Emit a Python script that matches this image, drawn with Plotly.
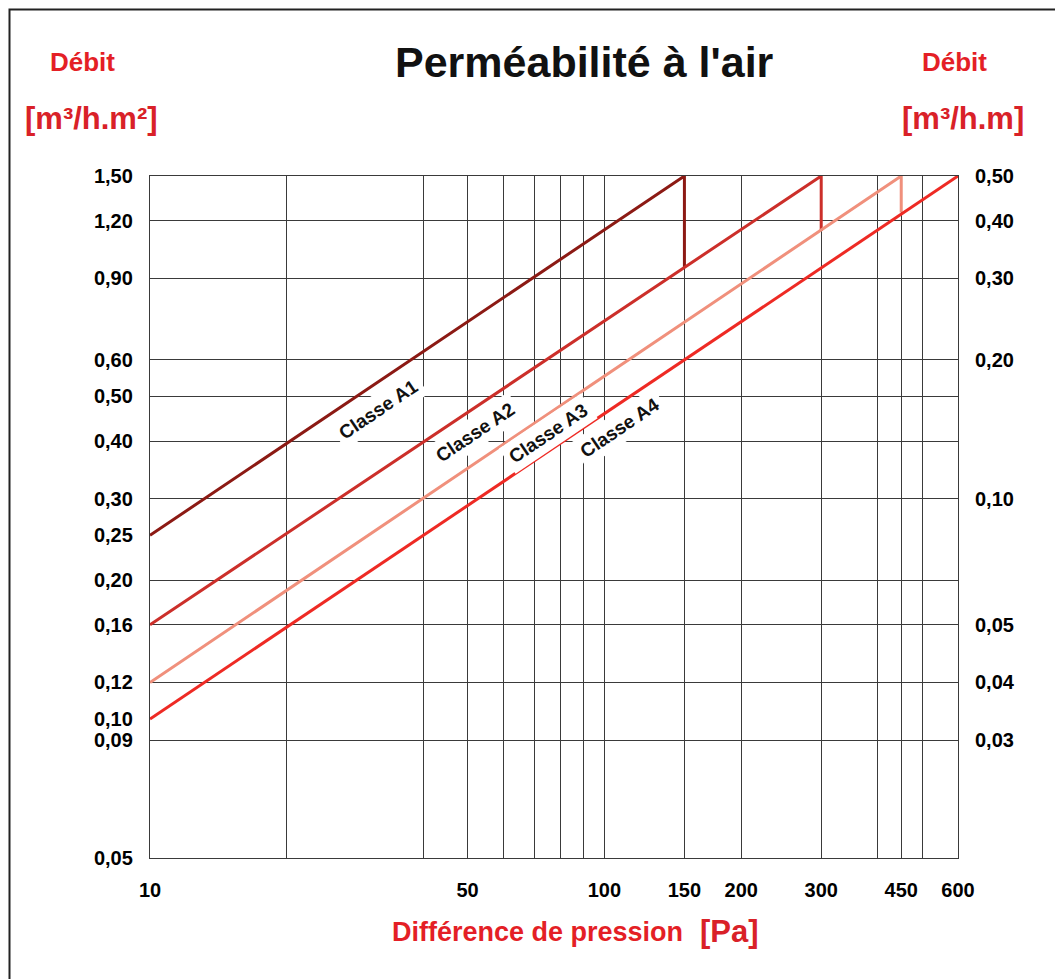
import math
import plotly.graph_objects as go

# données
pression_grille = [10, 20, 40, 50, 60, 70, 80, 90, 100, 150, 200, 300, 400, 450, 500, 600]
pression_labels = [10, 50, 100, 150, 200, 300, 450, 600]

debit_surf_ticks = [1.50, 1.20, 0.90, 0.60, 0.50, 0.40, 0.30, 0.25, 0.20, 0.16, 0.12, 0.10, 0.09, 0.05]
debit_grille = [1.50, 1.20, 0.90, 0.60, 0.50, 0.40, 0.30, 0.20, 0.16, 0.12, 0.09, 0.05]

# axe droit [m3/h.m] : valeurs et position correspondante sur l'axe gauche
debit_lin_vals = [0.50, 0.40, 0.30, 0.20, 0.10, 0.05, 0.04, 0.03]
debit_lin_pos = [1.50, 1.20, 0.90, 0.60, 0.30, 0.16, 0.12, 0.09]

classes = ["Classe A1", "Classe A2", "Classe A3", "Classe A4"]
classes_x = [[10, 150, 150], [10, 300, 300], [10, 450, 450], [10, 600]]
classes_y = [[0.25, 1.50, 0.95], [0.16, 1.50, 1.14], [0.12, 1.50, 1.25], [0.10, 1.50]]
couleurs = ["#8c1a14", "#cc2f2a", "#f0907c", "#ee2a24"]

# position des étiquettes (pression, débit)
etiq_x = [31.8, 51.9, 75.2, 108.2]
etiq_y = [0.469, 0.418, 0.416, 0.429]


def fmt(v):
    return f"{v:.2f}".replace(".", ",")


fig = go.Figure()

for nom, xs, ys, c in zip(classes, classes_x, classes_y, couleurs):
    fig.add_trace(go.Scatter(x=xs, y=ys, mode="lines", name=nom,
                             line=dict(color=c, width=3), hoverinfo="skip"))

# trace invisible pour afficher l'axe de droite
fig.add_trace(go.Scatter(x=[10, 600], y=[0.05, 1.5], yaxis="y2", mode="lines",
                         line=dict(width=0, color="rgba(0,0,0,0)"), hoverinfo="skip"))

grid = "#3a3a3a"
tick_font = dict(family="Liberation Sans, Arial", size=20, color="black", weight="bold")
x_range = [math.log10(min(pression_grille)), math.log10(max(pression_grille))]
y_range = [math.log10(min(debit_grille)), math.log10(max(debit_grille))]

# la page ajoute 8 px de marge en haut et à gauche
fig.update_layout(
    width=1055, height=971,
    margin=dict(l=142, r=105, t=168, b=121),
    paper_bgcolor="white", plot_bgcolor="white",
    showlegend=False,
    xaxis=dict(type="log", range=x_range, tickmode="array",
               tickvals=pression_grille,
               ticktext=[str(v) if v in pression_labels else "" for v in pression_grille],
               showgrid=True, gridcolor=grid, gridwidth=1.3,
               showline=True, mirror=True, linecolor=grid, linewidth=1.3,
               ticks="", tickfont=tick_font, ticklabelstandoff=14, zeroline=False),
    yaxis=dict(type="log", range=y_range, tickmode="array",
               tickvals=debit_surf_ticks, ticktext=[fmt(v) for v in debit_surf_ticks],
               showgrid=False, showline=True, mirror=True, linecolor=grid, linewidth=1.3,
               ticks="", tickfont=tick_font, ticklabelstandoff=12, zeroline=False),
    yaxis2=dict(type="log", range=y_range, overlaying="y", side="right",
                tickmode="array", tickvals=debit_grille,
                ticktext=[fmt(debit_lin_vals[debit_lin_pos.index(v)]) if v in debit_lin_pos else ""
                          for v in debit_grille],
                showgrid=True, gridcolor=grid, gridwidth=1.3,
                ticks="", tickfont=tick_font, ticklabelstandoff=16, zeroline=False),
)

rouge = "#e41f26"
txt = [
    ("<b>Perméabilité à l'air</b>", 0.538, 1.167, 43, "#111111"),
    ("<b>Débit</b>", -0.084, 1.167, 26, rouge),
    ("<b>[m³/h.m²]</b>", -0.072, 1.085, 31, "#d92128"),
    ("<b>Débit</b>", 0.996, 1.167, 26, rouge),
    ("<b>[m³/h.m]</b>", 1.006, 1.085, 31, "#d92128"),
    ("<b>Différence de pression</b>", 0.48, -0.1085, 27, rouge),
    ("<b>[Pa]</b>", 0.717, -0.1085, 31, "#d92128"),
]
for t, x, y, s, c in txt:
    fig.add_annotation(text=t, x=x, y=y, xref="paper", yref="paper",
                       xanchor="center", yanchor="middle", showarrow=False,
                       font=dict(family="Liberation Sans, Arial", size=s, color=c))

for nom, x, y in zip(classes, etiq_x, etiq_y):
    fig.add_annotation(text=f"<b>{nom}</b>", x=math.log10(x), y=math.log10(y),
                       xref="x", yref="y", showarrow=False, textangle=-34,
                       bgcolor="white", borderpad=4,
                       font=dict(family="Liberation Sans, Arial", size=19, color="#111111"))

# cadre
fig.add_shape(type="rect", xref="paper", yref="paper",
              x0=(9.5 - 150) / 808, x1=(1061 - 150) / 808,
              y0=(858 - 985) / 682, y1=(858 - 9.5) / 682,
              line=dict(color="#222222", width=2))

fig.write_html("out.html")
